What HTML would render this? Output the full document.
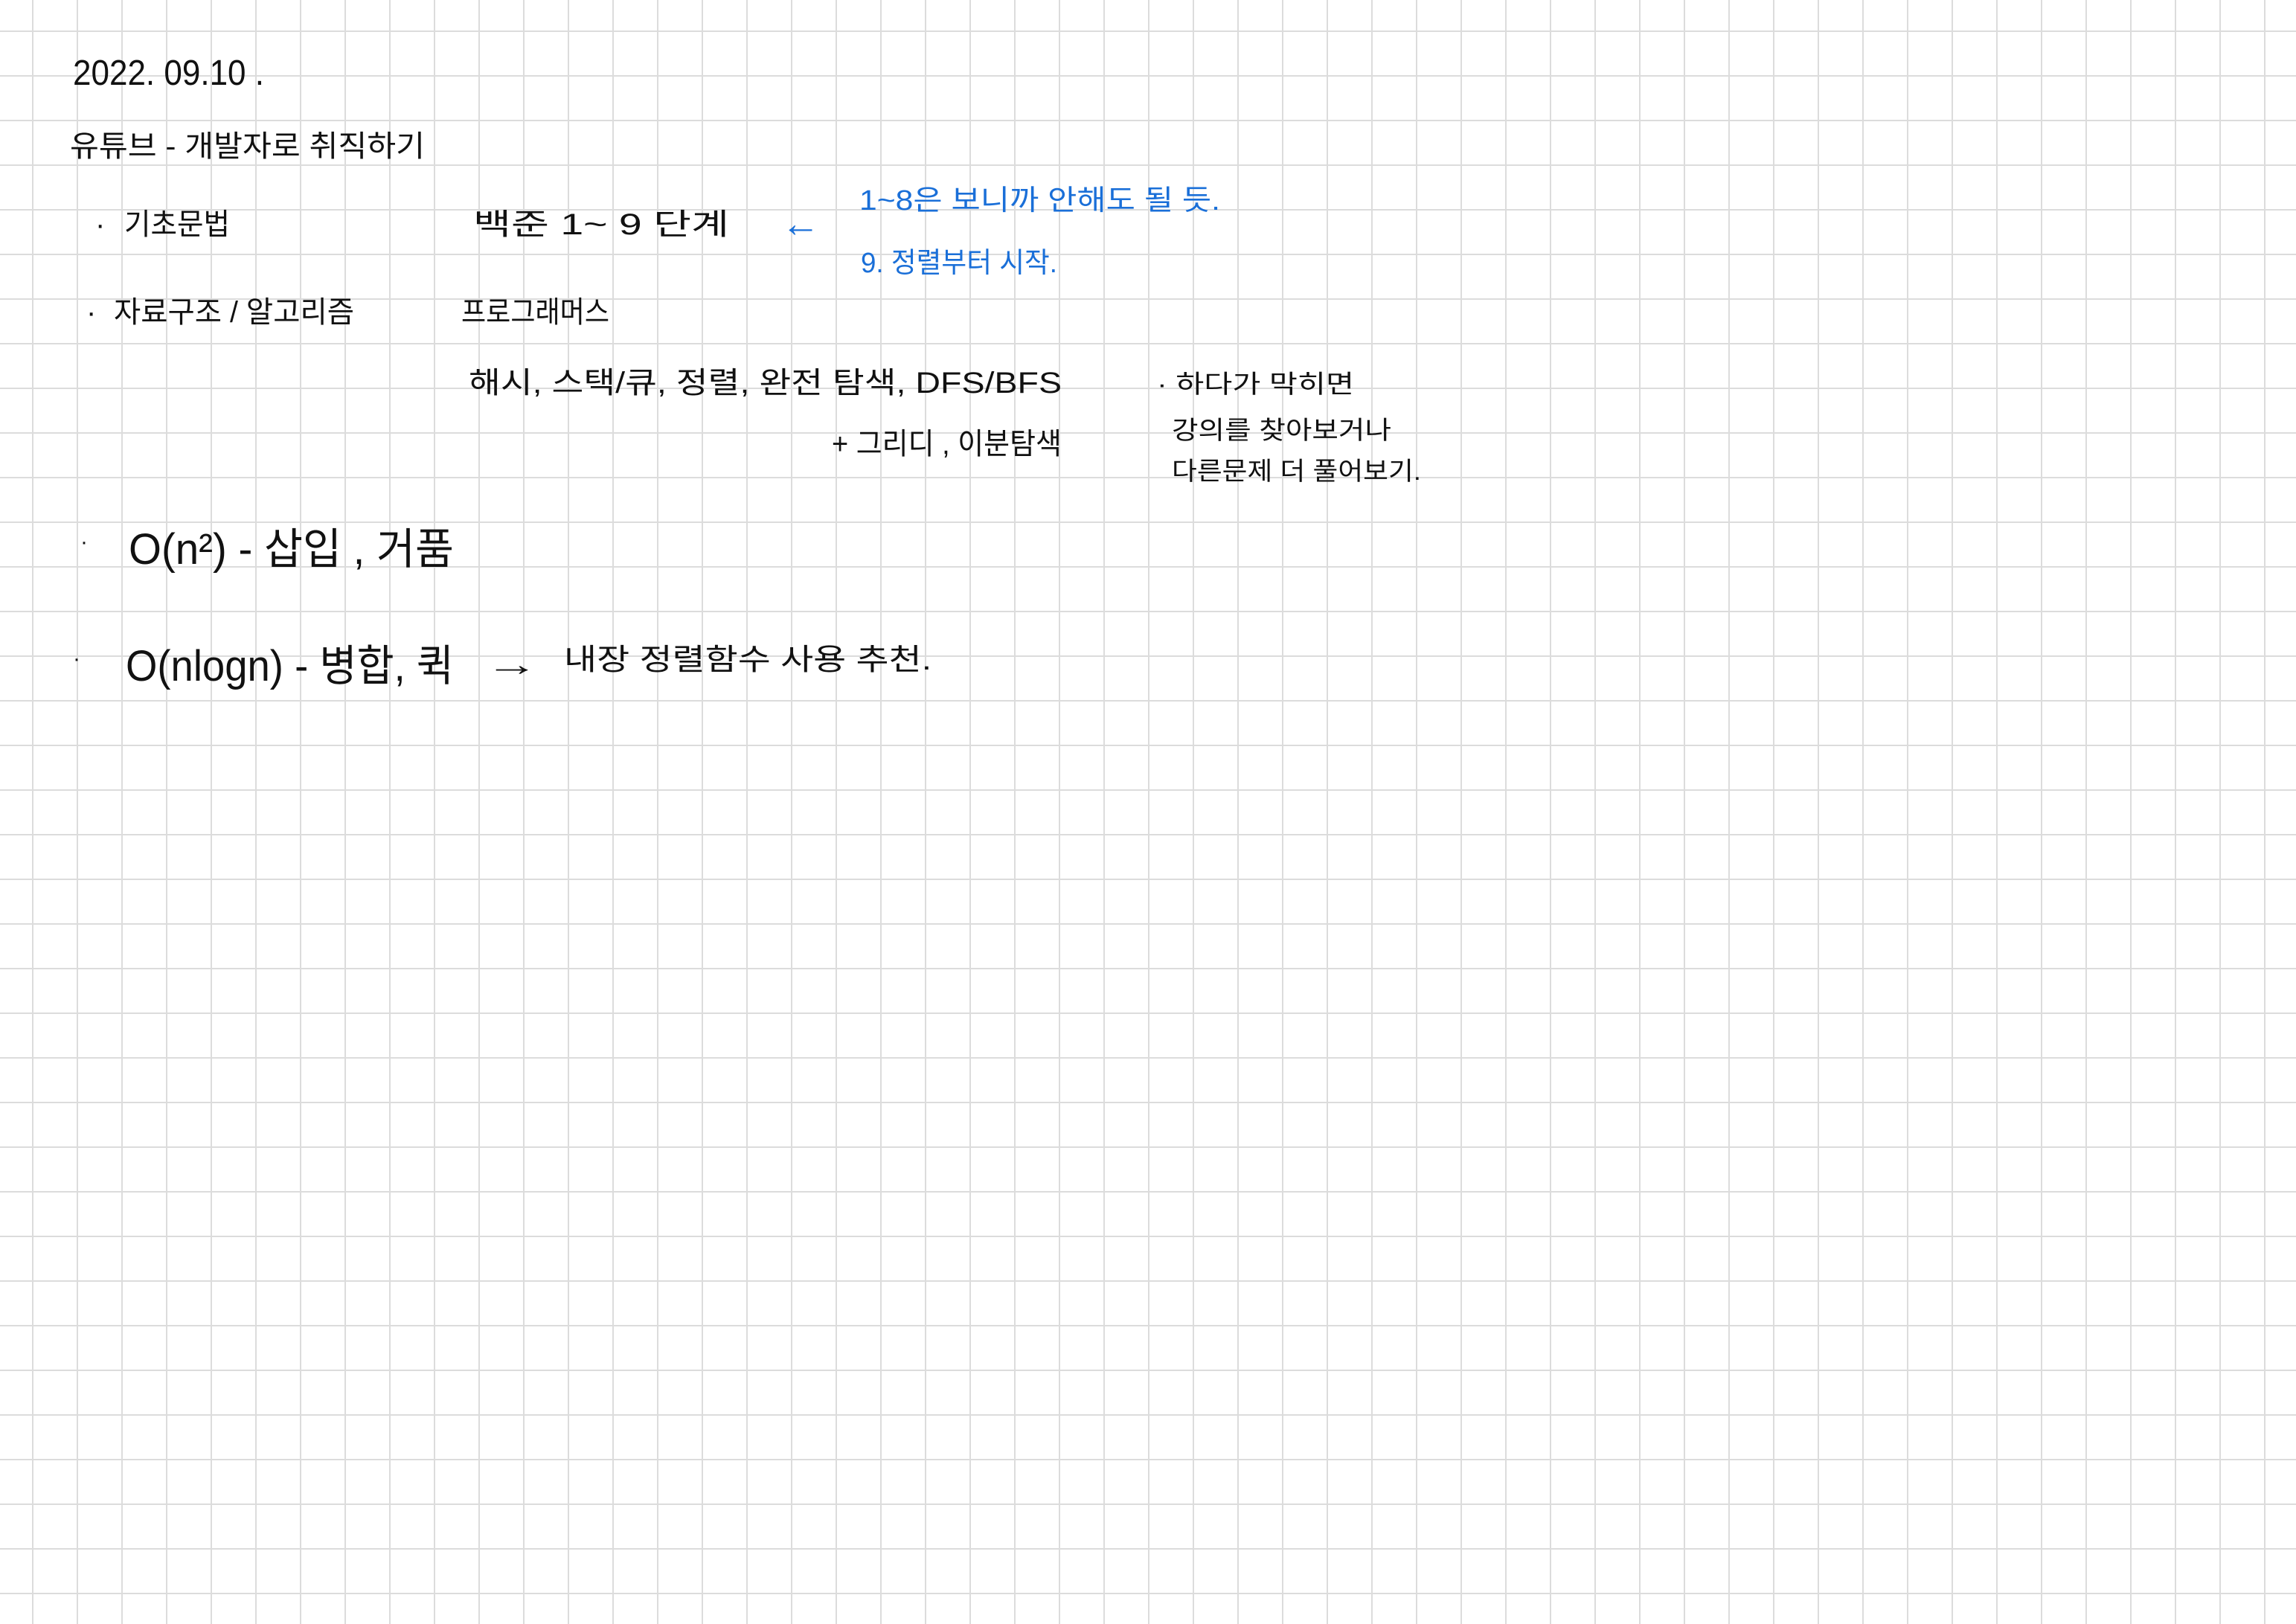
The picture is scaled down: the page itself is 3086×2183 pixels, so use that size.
<!DOCTYPE html>
<html><head><meta charset="utf-8"><style>
html,body{margin:0;padding:0;background:#fff;}
#page{position:relative;width:3086px;height:2183px;overflow:hidden;
background-color:#fff;
background-image:linear-gradient(to right,#dcdcdc 0,#dcdcdc 2px,transparent 2px),linear-gradient(to bottom,#dcdcdc 0,#dcdcdc 2px,transparent 2px);
background-size:60px 60px;background-position:43px 41px;}
svg{position:absolute;left:0;top:0;}
text{font-family:"Liberation Sans","Noto Sans CJK KR","NanumGothic",sans-serif;fill:#111;}
.b{fill:#1a6fd8;}
</style></head><body>
<div id="page">
<svg width="3086" height="2183">
<text x="98" y="114" font-size="48" textLength="257" lengthAdjust="spacingAndGlyphs">2022. 09.10 .</text>
<text x="94" y="210" font-size="40" textLength="477" lengthAdjust="spacingAndGlyphs">유튜브 - 개발자로  취직하기</text>
<text x="128" y="315" font-size="40">·</text>
<text x="167" y="315" font-size="40" textLength="142" lengthAdjust="spacingAndGlyphs">기초문법</text>
<text x="636" y="315" font-size="40" textLength="344" lengthAdjust="spacingAndGlyphs">백준  1~ 9  단계</text>
<text class="b" x="1050" y="318" font-size="52">←</text>
<text class="b" x="1155" y="282" font-size="38" textLength="485" lengthAdjust="spacingAndGlyphs">1~8은  보니까  안해도 될 듯.</text>
<text class="b" x="1157" y="366" font-size="38" textLength="264" lengthAdjust="spacingAndGlyphs">9. 정렬부터 시작.</text>
<text x="116" y="433" font-size="40">·</text>
<text x="153" y="433" font-size="40" textLength="323" lengthAdjust="spacingAndGlyphs">자료구조 / 알고리즘</text>
<text x="620" y="433" font-size="40" textLength="199" lengthAdjust="spacingAndGlyphs">프로그래머스</text>
<text x="630" y="528" font-size="40" textLength="797" lengthAdjust="spacingAndGlyphs">해시,  스택/큐,  정렬,  완전 탐색,  DFS/BFS</text>
<text x="1118" y="610" font-size="40" textLength="309" lengthAdjust="spacingAndGlyphs">+ 그리디 ,  이분탐색</text>
<text x="1555" y="528" font-size="34" textLength="265" lengthAdjust="spacingAndGlyphs">· 하다가 막히면</text>
<text x="1575" y="590" font-size="34" textLength="295" lengthAdjust="spacingAndGlyphs">강의를 찾아보거나</text>
<text x="1575" y="645" font-size="34" textLength="335" lengthAdjust="spacingAndGlyphs">다른문제 더 풀어보기.</text>
<text x="108" y="738" font-size="30">·</text>
<text x="173" y="758" font-size="58" textLength="437" lengthAdjust="spacingAndGlyphs">O(n²) - 삽입 , 거품</text>
<text x="98" y="895" font-size="30">·</text>
<text x="169" y="915" font-size="58" textLength="441" lengthAdjust="spacingAndGlyphs">O(nlogn) - 병합, 퀵</text>
<text x="652" y="908" font-size="44" textLength="72" lengthAdjust="spacingAndGlyphs">→</text>
<text x="758" y="900" font-size="40" textLength="494" lengthAdjust="spacingAndGlyphs">내장 정렬함수  사용 추천.</text>
</svg>
</div>
</body></html>
